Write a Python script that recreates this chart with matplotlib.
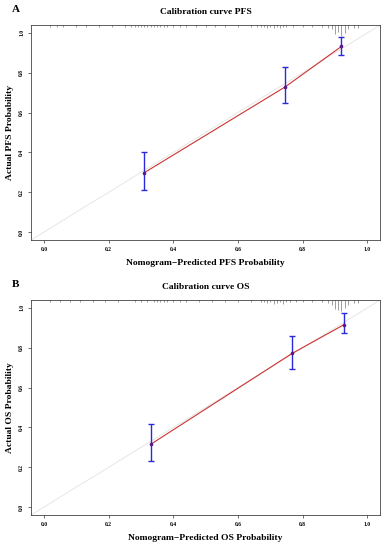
import matplotlib.pyplot as plt
import numpy as np

plt.rcParams['font.family'] = ['Liberation Serif', 'DejaVu Serif']

# calibration points: predicted, observed, CI low, CI high
pfs_pred = [0.309, 0.747, 0.920]
pfs_obs = [0.297, 0.730, 0.932]
pfs_lo = [0.213, 0.647, 0.890]
pfs_hi = [0.400, 0.827, 0.980]

os_pred = [0.330, 0.768, 0.927]
os_obs = [0.315, 0.772, 0.915]
os_lo = [0.231, 0.692, 0.874]
os_hi = [0.417, 0.858, 0.976]

# rug of predicted probabilities along the top (position, length)
pfs_rug_x = [0.02, 0.04, 0.06, 0.10, 0.13, 0.17, 0.21, 0.25, 0.27, 0.28, 0.29, 0.30,
             0.31, 0.32, 0.33, 0.34, 0.35, 0.36, 0.37, 0.38, 0.40, 0.42, 0.44, 0.47,
             0.50, 0.53, 0.56, 0.60, 0.64, 0.66, 0.67, 0.68, 0.69, 0.70, 0.71, 0.72,
             0.73, 0.74, 0.75, 0.77, 0.80, 0.83, 0.86, 0.88, 0.89, 0.90, 0.91, 0.92,
             0.93, 0.94, 0.96, 0.97]
pfs_rug_h = [0.01, 0.01, 0.01, 0.008, 0.008, 0.008, 0.008, 0.01, 0.012, 0.01, 0.012, 0.01,
             0.012, 0.01, 0.012, 0.01, 0.012, 0.01, 0.01, 0.01, 0.01, 0.008, 0.01, 0.008,
             0.008, 0.008, 0.008, 0.008, 0.01, 0.012, 0.01, 0.012, 0.015, 0.012, 0.015, 0.012,
             0.015, 0.012, 0.01, 0.008, 0.008, 0.008, 0.01, 0.015, 0.02, 0.045, 0.035, 0.055,
             0.04, 0.02, 0.015, 0.015]

os_rug_x = [0.02, 0.05, 0.08, 0.11, 0.15, 0.19, 0.23, 0.28, 0.30, 0.32, 0.34, 0.35,
            0.36, 0.37, 0.38, 0.40, 0.42, 0.44, 0.48, 0.52, 0.56, 0.60, 0.64, 0.67,
            0.68, 0.69, 0.70, 0.71, 0.72, 0.73, 0.74, 0.75, 0.76, 0.78, 0.80, 0.83,
            0.86, 0.88, 0.89, 0.90, 0.91, 0.92, 0.93, 0.94, 0.96, 0.97]
os_rug_h = [0.008, 0.008, 0.008, 0.008, 0.008, 0.008, 0.008, 0.01, 0.012, 0.01, 0.012, 0.01,
            0.012, 0.01, 0.012, 0.01, 0.008, 0.008, 0.008, 0.008, 0.008, 0.008, 0.008, 0.01,
            0.012, 0.015, 0.012, 0.02, 0.015, 0.012, 0.02, 0.012, 0.01, 0.008, 0.008, 0.008,
            0.01, 0.015, 0.025, 0.045, 0.05, 0.055, 0.04, 0.025, 0.015, 0.015]

fig = plt.figure(figsize=(3.84, 5.5), dpi=100)


def panel(rect, letter, name, pred, obs, lo, hi, rug_x, rug_h):
    ax = fig.add_axes(rect)
    ax.set_xlim(-0.04, 1.04)
    ax.set_ylim(-0.04, 1.04)
    # ideal line
    ax.plot([-0.04, 1.04], [-0.04, 1.04], color='#e6e6e6', lw=0.7, zorder=1)
    # calibration line
    ax.plot(pred, obs, color='#cc3333', lw=0.8, zorder=2)
    yerr = [np.array(obs) - np.array(lo), np.array(hi) - np.array(obs)]
    ax.errorbar(pred, obs, yerr=yerr, fmt='o', ms=1.6, color='#2a2ad8',
                mfc='#551a8b', mec='#551a8b', ecolor='#2a2ad8', elinewidth=1.0,
                capsize=2.5, capthick=1.0, zorder=3)
    # rug
    ax.vlines(rug_x, 1.04 - np.array(rug_h), 1.04, color='#555555', lw=0.4,
              zorder=2, clip_on=False)
    ticks = [0.0, 0.2, 0.4, 0.6, 0.8, 1.0]
    ax.set_xticks(ticks)
    ax.set_yticks(ticks)
    ax.set_xticklabels(['%.1f' % t for t in ticks], fontsize=4, fontweight='bold')
    ax.set_yticklabels(['%.1f' % t for t in ticks], fontsize=4, fontweight='bold',
                       rotation=90, va='center')
    ax.tick_params(length=2, width=0.4, pad=3)
    for s in ax.spines.values():
        s.set_linewidth(0.6)
        s.set_color('#444444')
    ax.set_title('Calibration curve ' + name, fontsize=6.8, fontweight='bold', pad=8)
    ax.set_xlabel('Nomogram\u2212Predicted ' + name + ' Probability', fontsize=6.8,
                  fontweight='bold', labelpad=5)
    ax.set_ylabel('Actual ' + name + ' Probability', fontsize=6.8, fontweight='bold',
                  labelpad=4)
    fig.text(0.032, rect[1] + rect[3] + 0.028, letter, fontsize=8, fontweight='bold',
             va='center')
    return ax


panel([0.081, 0.5636, 0.909, 0.391], 'A', 'PFS', pfs_pred, pfs_obs, pfs_lo, pfs_hi,
      pfs_rug_x, pfs_rug_h)
panel([0.081, 0.0636, 0.909, 0.391], 'B', 'OS', os_pred, os_obs, os_lo, os_hi,
      os_rug_x, os_rug_h)

fig.savefig('out.png', dpi=100)
